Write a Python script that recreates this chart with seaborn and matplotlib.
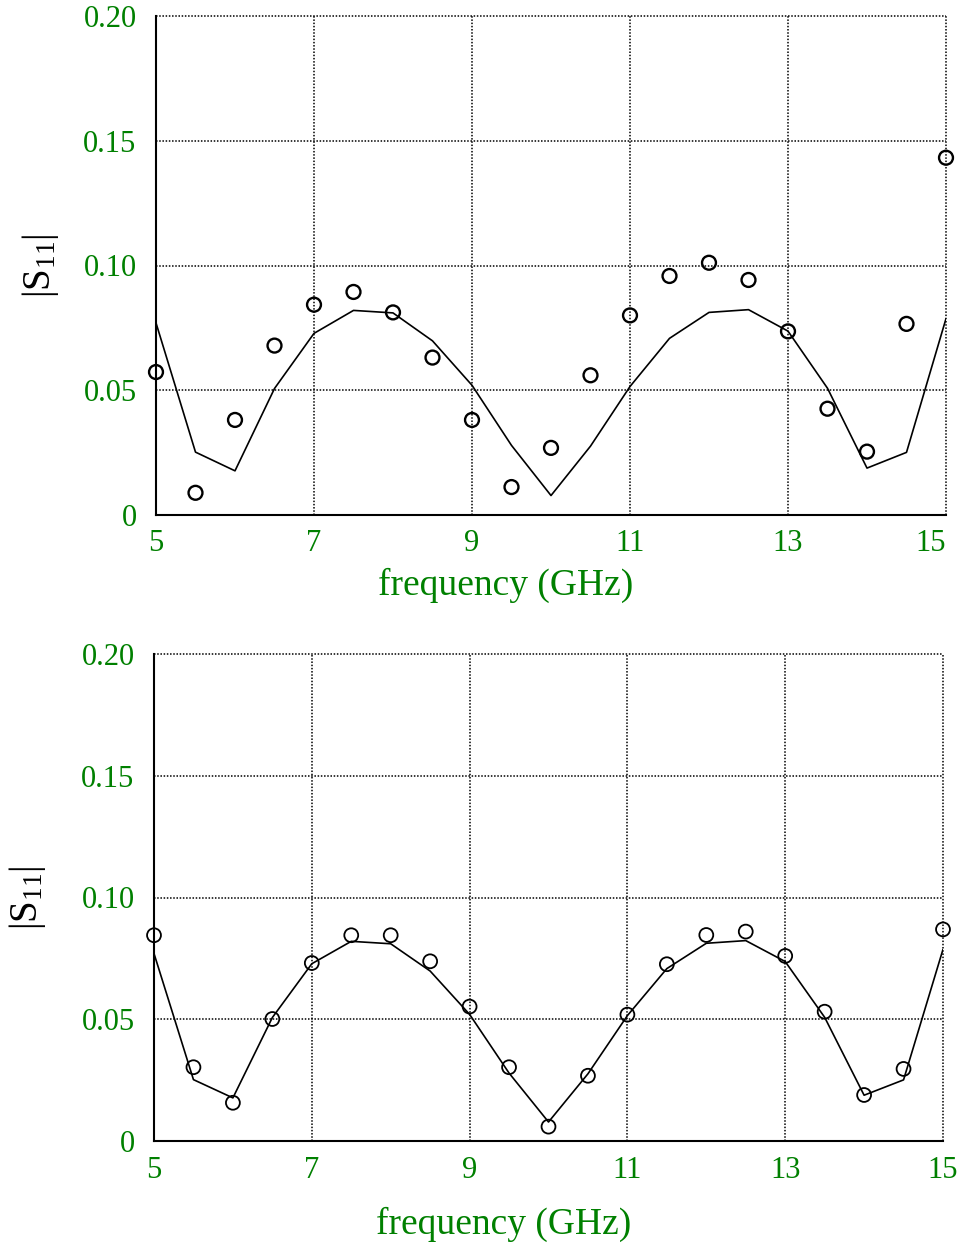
import numpy as np
import pandas as pd
import matplotlib
matplotlib.use("Agg")
import matplotlib.pyplot as plt
import seaborn as sns

# ---- data ----
freq = [5.0, 5.5, 6.0, 6.5, 7.0, 7.5, 8.0, 8.5, 9.0, 9.5, 10.0,
        10.5, 11.0, 11.5, 12.0, 12.5, 13.0, 13.5, 14.0, 14.5, 15.0]
model_s11 = [0.077, 0.0252, 0.0177, 0.0507, 0.0728, 0.082, 0.081, 0.0698, 0.052, 0.0279, 0.0078,
             0.0276, 0.0515, 0.0708, 0.0812, 0.0823, 0.0737, 0.0508, 0.0188, 0.0251, 0.0787]
meas_top = [0.0573, 0.0089, 0.0381, 0.0679, 0.0843, 0.0894, 0.0812, 0.0631, 0.0381, 0.0112, 0.0269,
            0.056, 0.080, 0.0958, 0.1011, 0.0942, 0.0736, 0.0426, 0.0254, 0.0766, 0.1432]
meas_bottom = [0.0845, 0.0303, 0.0157, 0.0501, 0.0731, 0.0845, 0.0845, 0.0738, 0.0552, 0.0303, 0.0059,
               0.0268, 0.0519, 0.0726, 0.0846, 0.086, 0.076, 0.0531, 0.0189, 0.0296, 0.0869]
x_ticks = [5, 7, 9, 11, 13, 15]
x_ticklabels = ["5", "7", "9", "11", "13", "15"]
y_ticks = [0, 0.05, 0.10, 0.15, 0.20]
y_ticklabels = ["0", "0.05", "0.10", "0.15", "0.20"]
x_label = "frequency (GHz)"
y_label = r"$|\mathrm{S}_{11}|$"

sns.set_theme(style="white")
plt.rcParams["font.family"] = ["Liberation Serif", "DejaVu Serif"]
plt.rcParams["mathtext.fontset"] = "custom"
plt.rcParams["mathtext.rm"] = "Liberation Serif"
plt.rcParams["mathtext.it"] = "Liberation Serif:italic"

W, H = 961, 1245
fig = plt.figure(figsize=(W / 100, H / 100), dpi=100)
fig.patch.set_facecolor("white")

GREEN = "#008000"

def px_axes(l, t, r, b):
    return fig.add_axes([l / W, (H - b) / H, (r - l) / W, (b - t) / H])

def draw(ax, meas, xpad, xlab_y, ylab_x, mew, last_right):
    df_model = pd.DataFrame({"f": freq, "s": model_s11})
    df_meas = pd.DataFrame({"f": freq, "s": meas})
    sns.lineplot(data=df_model, x="f", y="s", ax=ax, color="black", linewidth=1.2,
                 zorder=3)
    sns.scatterplot(data=df_meas, x="f", y="s", ax=ax, marker="o", s=100,
                    facecolors="none", edgecolor="black", linewidth=mew, zorder=4,
                    clip_on=False)
    ax.set_xlim(5, 15)
    ax.set_ylim(0, 0.20)
    ax.set_xticks(x_ticks)
    ax.set_xticklabels(x_ticklabels)
    ax.set_yticks(y_ticks)
    ax.set_yticklabels(y_ticklabels)
    ax.grid(True, color="black", linestyle=(0, (1, 1.1)), linewidth=1.1)
    for gl in ax.get_xgridlines() + ax.get_ygridlines():
        gl.set_clip_on(False)
    for s in ["top", "right"]:
        ax.spines[s].set_visible(False)
    for s in ["left", "bottom"]:
        ax.spines[s].set_color("black")
        ax.spines[s].set_linewidth(1.5)
        ax.spines[s].set_zorder(5)
    ax.tick_params(axis="both", length=0, labelsize=22, labelcolor=GREEN)
    ax.tick_params(axis="y", pad=14)
    ax.tick_params(axis="x", pad=xpad)
    if last_right:
        ax.get_xticklabels()[-1].set_horizontalalignment("right")
    ax.set_xlabel(x_label, fontsize=27, color=GREEN)
    ax.xaxis.set_label_coords(0.443, xlab_y)
    ax.set_ylabel(y_label, fontsize=28, color="black")
    ax.yaxis.set_label_coords(ylab_x, 0.5)

ax1 = px_axes(156, 16, 946, 515)
draw(ax1, meas_top, 10, -0.105, -0.12, 1.7, True)
ax2 = px_axes(154, 654, 943, 1141)
draw(ax2, meas_bottom, 11, -0.136, -0.134, 1.3, False)

fig.savefig("out.png", dpi=100, facecolor="white")
